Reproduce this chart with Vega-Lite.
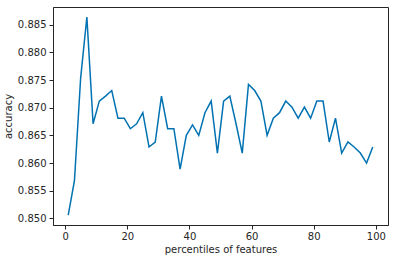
{
  "$schema": "https://vega.github.io/schema/vega-lite/v6.json",
  "width": 335,
  "height": 218,
  "autosize": "none",
  "padding": {"left": 53, "top": 7, "right": 7, "bottom": 38},
  "background": "white",
  "config": {
    "view": {"stroke": "#262626", "strokeWidth": 1},
    "font": "DejaVu Sans",
    "axis": {
      "grid": false,
      "domainColor": "#262626",
      "tickColor": "#262626",
      "tickSize": 4,
      "labelFont": "DejaVu Sans",
      "labelFontSize": 10,
      "labelColor": "#262626",
      "titleFont": "DejaVu Sans",
      "titleFontSize": 10,
      "titleFontWeight": "normal",
      "titleColor": "#262626"
    }
  },
  "data": {
    "values": [
      {"p": 1, "acc": 0.8506}, {"p": 3, "acc": 0.8568}, {"p": 5, "acc": 0.8754},
      {"p": 7, "acc": 0.8864}, {"p": 9, "acc": 0.8671}, {"p": 11, "acc": 0.8712},
      {"p": 13, "acc": 0.8721}, {"p": 15, "acc": 0.8731}, {"p": 17, "acc": 0.8681},
      {"p": 19, "acc": 0.8681}, {"p": 21, "acc": 0.8662}, {"p": 23, "acc": 0.8671},
      {"p": 25, "acc": 0.8691}, {"p": 27, "acc": 0.8629}, {"p": 29, "acc": 0.8638},
      {"p": 31, "acc": 0.8721}, {"p": 33, "acc": 0.8662}, {"p": 35, "acc": 0.8662},
      {"p": 37, "acc": 0.8589}, {"p": 39, "acc": 0.8650}, {"p": 41, "acc": 0.8669},
      {"p": 43, "acc": 0.8650}, {"p": 45, "acc": 0.8691}, {"p": 47, "acc": 0.8712},
      {"p": 49, "acc": 0.8618}, {"p": 51, "acc": 0.8712}, {"p": 53, "acc": 0.8721},
      {"p": 55, "acc": 0.8671}, {"p": 57, "acc": 0.8618}, {"p": 59, "acc": 0.8742},
      {"p": 61, "acc": 0.8731}, {"p": 63, "acc": 0.8712}, {"p": 65, "acc": 0.8650},
      {"p": 67, "acc": 0.8681}, {"p": 69, "acc": 0.8691}, {"p": 71, "acc": 0.8712},
      {"p": 73, "acc": 0.8701}, {"p": 75, "acc": 0.8681}, {"p": 77, "acc": 0.8701},
      {"p": 79, "acc": 0.8681}, {"p": 81, "acc": 0.8712}, {"p": 83, "acc": 0.8712},
      {"p": 85, "acc": 0.8638}, {"p": 87, "acc": 0.8681}, {"p": 89, "acc": 0.8618},
      {"p": 91, "acc": 0.8638}, {"p": 93, "acc": 0.8629}, {"p": 95, "acc": 0.8618},
      {"p": 97, "acc": 0.8600}, {"p": 99, "acc": 0.8629}
    ]
  },
  "mark": {"type": "line", "color": "#0072B2", "strokeWidth": 1.5},
  "encoding": {
    "x": {
      "field": "p", "type": "quantitative",
      "scale": {"domain": [-3.9, 103.9], "nice": false, "zero": false},
      "axis": {"values": [0, 20, 40, 60, 80, 100], "title": "percentiles of features", "titlePadding": 3, "labelPadding": 2}
    },
    "y": {
      "field": "acc", "type": "quantitative",
      "scale": {"domain": [0.8488, 0.8882], "nice": false, "zero": false},
      "axis": {"values": [0.85, 0.855, 0.86, 0.865, 0.87, 0.875, 0.88, 0.885], "format": ".3f", "title": "accuracy", "titlePadding": 4, "labelPadding": 3}
    }
  }
}
